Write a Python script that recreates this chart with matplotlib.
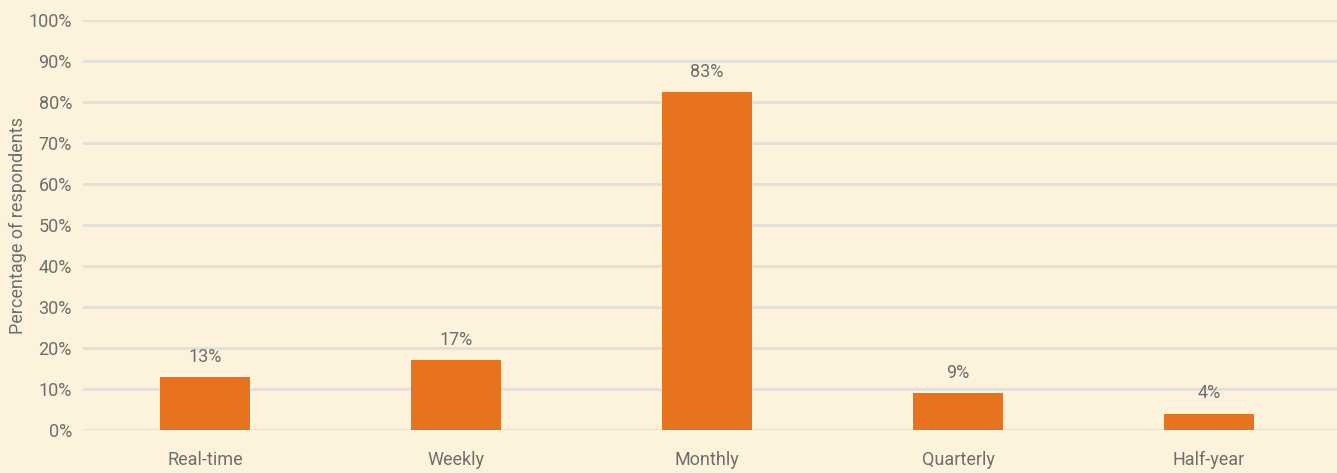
import matplotlib.pyplot as plt
import numpy as np

# Data
categories = ['Real-time', 'Weekly', 'Monthly', 'Quarterly', 'Half-year']
values = [13, 17, 82.5, 9, 4]
labels = ['13%', '17%', '83%', '9%', '4%']
yticks = list(range(0, 101, 10))

bg = '#FDF2DB'
bar_color = '#E8731E'
text_color = '#6E6E6E'
grid_color = '#E2E0DA'

plt.rcParams['font.family'] = ['Roboto', 'DejaVu Sans']
plt.rcParams['font.stretch'] = 'condensed'

fig = plt.figure(figsize=(13.37, 4.73), dpi=100, facecolor=bg)
ax = fig.add_axes([83 / 1337, 43 / 473, 1 - 83 / 1337, 410 / 473])
ax.set_facecolor(bg)

x = np.arange(len(categories))
ax.bar(x, values, width=0.36, color=bar_color, zorder=3)

for xi, v, lab in zip(x, values, labels):
    ax.annotate(lab, (xi, v), xytext=(0, 8), textcoords='offset points',
                ha='center', va='bottom', fontsize=13, color=text_color)

ax.set_xlim(-0.486, 4.51)
ax.set_ylim(0, 100)
ax.set_yticks(yticks)
ax.set_yticklabels([f'{t}%' for t in yticks])
ax.set_xticks(x)
ax.set_xticklabels(categories)
ax.grid(axis='y', color=grid_color, linewidth=2, zorder=0)
ax.tick_params(axis='both', length=0, labelsize=13, labelcolor=text_color)
ax.tick_params(axis='x', pad=15)
ax.tick_params(axis='y', pad=8)
for s in ax.spines.values():
    s.set_visible(False)

fig.text(18 / 1337, 1 - 225 / 473, 'Percentage of respondents', rotation=90,
         ha='center', va='center', fontsize=13, color=text_color)

fig.savefig('out.png', dpi=100, facecolor=bg)
